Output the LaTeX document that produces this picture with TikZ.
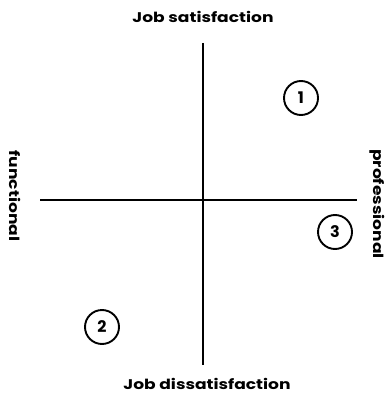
\documentclass[tikz,border=0pt]{standalone}
\usepackage{fontspec}
\setmainfont{Poppins}
\newcommand{\widetxt}[1]{\scalebox{1.22}[1]{#1}}
\begin{document}
\begin{tikzpicture}[x=1pt,y=-1pt,
  axis/.style={line width=1.8pt},
  lbl/.style={font=\bfseries\fontsize{14}{16}\selectfont, inner sep=0pt},
  num/.style={circle, draw, line width=1.9pt, minimum size=34pt, inner sep=0pt, font=\bfseries\fontsize{16}{18}\selectfont}]
\useasboundingbox (0,0) rectangle (389,395);
\coordinate (top) at (203,43);
\coordinate (bot) at (203,365);
\coordinate (left) at (40,200);
\coordinate (right) at (357,200);
\draw[axis] (top) -- (bot);
\draw[axis] (left) -- (right);
\node[lbl] (sat) at (203,17) {\widetxt{Job satisfaction}};
\node[lbl] (dis) at (207,384) {\widetxt{Job dissatisfaction}};
\node[lbl, rotate=-90] (fun) at (15,196) {\widetxt{functional}};
\node[lbl, rotate=-90] (pro) at (377,204) {\widetxt{professional}};
\node[num] (n1) at (301,98) {1};
\node[num] (n3) at (335,232) {3};
\node[num] (n2) at (102,327) {2};
\end{tikzpicture}
\end{document}
